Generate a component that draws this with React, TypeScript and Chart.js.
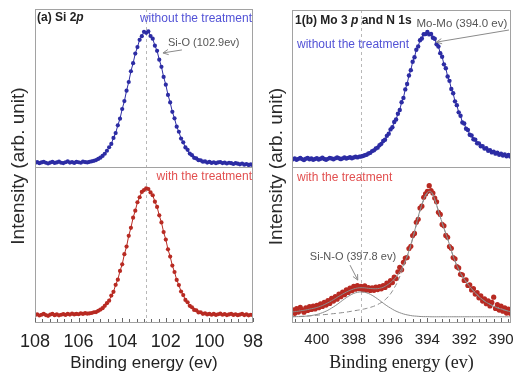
import React, { useEffect, useRef } from 'react';
import { Chart, registerables } from 'chart.js';

Chart.register(...registerables);

// ---------------- data: panel (a) Si 2p ----------------
const SI_E_START = 108.0;
const SI_E_STEP = -0.1;
const siUntreated = [
  2.6, 3.1, 2.4, 2.9, 3.3, 2.7, 2.2, 2.8, 3.2, 2.6,
  2.9, 3.4, 2.7, 2.5, 3.0, 3.5, 2.8, 3.1, 2.6, 3.3,
  3.0, 2.7, 3.4, 3.1, 2.9, 3.3, 3.6, 3.9, 4.4, 5.1,
  5.9, 7.0, 8.4, 10.3, 12.5, 14.6, 18.4, 21.5, 26.4, 30.6,
  36.7, 41.7, 48.3, 53.8, 60.6, 65.7, 71.8, 75.9, 80.5, 82.8,
  85.6, 84.9, 85.8, 82.9, 81.2, 76.8, 73.5, 67.9, 63.4, 57.0,
  52.1, 45.6, 40.9, 34.9, 30.8, 25.5, 22.3, 18.0, 15.6, 12.4,
  10.9, 8.5, 7.5, 5.8, 5.4, 4.3, 4.2, 3.4, 3.5, 2.8,
  3.2, 2.6, 3.0, 2.4, 2.9, 3.1, 2.5, 2.8, 2.2, 2.7,
  2.4, 1.9, 2.5, 2.1, 1.7, 2.2, 1.5, 1.9, 1.3, 1.6,
  1.1,
];
const siTreated = [
  5.0, 5.6, 4.8, 5.3, 5.9, 5.1, 4.6, 5.4, 5.8, 5.0,
  5.5, 4.9, 5.3, 5.7, 5.2, 5.8, 5.4, 6.0, 5.5, 5.9,
  5.6, 6.2, 5.8, 6.3, 6.0, 6.2, 6.4, 6.9, 7.0, 7.8,
  8.6, 9.5, 11.0, 12.7, 14.3, 17.6, 20.0, 24.5, 27.8, 33.4,
  37.6, 44.1, 49.0, 55.9, 61.0, 67.5, 72.0, 77.4, 80.6, 84.0,
  85.2, 86.3, 85.9, 83.7, 81.9, 77.8, 74.4, 69.0, 64.5, 58.3,
  53.5, 47.2, 42.6, 36.8, 32.7, 27.6, 24.3, 20.2, 17.9, 14.8,
  13.3, 11.0, 10.1, 8.4, 8.1, 6.8, 6.9, 5.9, 6.2, 5.5,
  5.9, 5.3, 5.8, 5.2, 5.6, 6.0, 5.3, 5.7, 5.1, 5.5,
  5.9, 5.2, 5.6, 5.0, 5.4, 5.8, 5.1, 5.5, 4.9, 5.3,
  5.0,
];
const SI_X_TICKS = [108, 106, 104, 102, 100, 98];
const SI_X_MIN = 98;
const SI_X_MAX = 108;
const SI_MARKER = 102.9;

// ---------------- data: panel (b) Mo 3p and N 1s ----------------
const MO_E_START = 401.3;
const MO_E_STEP = -0.1;
const moUntreated = [
  5.2, 5.8, 4.9, 5.5, 6.1, 5.3, 4.8, 5.6, 6.0, 5.2,
  5.7, 4.9, 5.4, 5.9, 5.1, 5.6, 6.2, 5.4, 4.9, 5.5,
  6.1, 5.7, 5.2, 5.8, 6.4, 5.9, 5.3, 5.8, 6.3, 5.7,
  6.1, 6.6, 5.9, 6.3, 6.8, 6.4, 6.9, 7.0, 7.3, 7.8,
  8.1, 8.9, 9.3, 10.4, 10.9, 12.1, 12.6, 14.1, 15.0, 16.8,
  17.6, 20.1, 21.4, 24.2, 25.6, 28.9, 30.5, 34.1, 36.5, 41.4,
  44.2, 49.6, 53.0, 58.4, 61.8, 67.1, 70.0, 74.8, 76.9, 80.8,
  81.9, 84.6, 84.7, 86.0, 84.5, 84.8, 82.4, 81.7, 78.3, 76.8,
  72.6, 70.3, 65.5, 63.0, 57.8, 55.0, 49.8, 47.1, 42.0, 39.6,
  35.0, 32.9, 28.6, 27.9, 24.6, 23.8, 20.8, 20.3, 17.9, 17.6,
  15.4, 15.3, 13.5, 13.6, 12.0, 12.2, 10.6, 11.0, 9.6, 10.1,
  8.8, 9.4, 8.1, 8.8, 7.6, 8.3, 7.1, 7.9, 7.0,
];
const moTreated = [
  8.5, 6.2, 9.3, 7.0, 10.1, 8.4, 6.9, 9.8, 8.1, 10.6,
  8.7, 10.9, 9.0, 11.4, 9.8, 12.3, 10.6, 13.2, 11.5, 14.4,
  12.6, 15.8, 14.1, 16.9, 15.3, 18.6, 16.9, 19.8, 18.2, 21.3,
  19.6, 22.4, 20.8, 23.5, 21.7, 24.0, 22.1, 23.6, 21.4, 23.9,
  21.2, 22.8, 20.9, 22.6, 21.0, 23.1, 21.5, 23.4, 22.0, 24.1,
  22.9, 25.6, 24.2, 27.3, 26.0, 29.5, 28.6, 32.9, 35.8, 34.2,
  39.0, 41.8, 42.1, 47.9, 49.3, 56.2, 57.6, 64.8, 66.7, 73.9,
  75.1, 80.8, 83.0, 84.6, 88.3, 85.2, 83.6, 80.4, 77.9, 71.2,
  69.8, 63.4, 62.5, 56.3, 55.1, 49.2, 48.0, 42.1, 41.3, 36.2,
  35.4, 31.3, 31.0, 27.4, 27.8, 24.1, 24.6, 21.3, 22.1, 18.6,
  19.5, 16.2, 17.4, 14.1, 15.6, 12.4, 14.3, 11.0, 13.2, 16.6,
  9.4, 11.8, 8.3, 10.9, 7.6, 9.8, 6.4, 8.9, 6.2,
];
const FIT_E_START = 401.4;
const FIT_E_STEP = -0.2;
const fitTotal = [
  7.0, 7.3, 7.6, 8.0, 8.4, 8.9, 9.4, 10.0, 10.8, 11.8,
  13.0, 14.3, 15.7, 17.2, 18.6, 19.9, 21.0, 21.9, 22.5, 22.7,
  22.6, 22.3, 22.1, 22.0, 22.3, 23.0, 24.3, 26.0, 28.2, 31.2,
  35.0, 40.0, 46.5, 54.5, 63.5, 72.5, 79.5, 84.0, 84.5, 79.5,
  72.0, 64.5, 57.5, 50.5, 43.0, 37.0, 32.0, 28.2, 25.0, 22.0,
  19.4, 17.0, 15.0, 13.3, 12.0, 10.8, 9.8, 9.0, 8.3, 7.6,
  7.0,
];
const fitSiNO = [
  4.0, 4.1, 4.1, 4.2, 4.4, 4.6, 5.0, 5.5, 6.2, 7.1,
  8.2, 9.6, 11.1, 12.8, 14.6, 16.3, 17.8, 19.0, 19.7, 20.0,
  19.7, 19.0, 17.8, 16.3, 14.6, 12.8, 11.1, 9.6, 8.2, 7.1,
  6.2, 5.5, 5.0, 4.6, 4.4, 4.2, 4.1, 4.1, 4.0, 4.0,
  4.0, 4.0, 4.0, 4.0, 4.0, 4.0, 4.0, 4.0, 4.0, 4.0,
  4.0, 4.0, 4.0, 4.0, 4.0, 4.0, 4.0, 4.0, 4.0, 4.0,
  4.0,
];
const fitMo = [
  4.0, 4.1, 4.2, 4.3, 4.4, 4.6, 4.8, 5.0, 5.2, 5.4,
  5.6, 5.9, 6.1, 6.4, 6.7, 7.0, 7.4, 7.8, 8.2, 8.6,
  9.1, 9.7, 10.4, 11.3, 12.5, 14.0, 16.0, 18.8, 22.5, 27.0,
  33.0, 39.5, 46.0, 54.0, 63.0, 72.0, 79.0, 83.5, 84.0, 79.5,
  72.0, 64.5, 57.5, 50.5, 43.0, 37.0, 32.0, 28.2, 25.0, 22.0,
  19.4, 17.0, 15.0, 13.3, 12.0, 10.8, 9.8, 9.0, 8.3, 7.6,
  7.0,
];
const MO_X_TICKS = [400, 398, 396, 394, 392, 390];
const MO_X_MIN = 389.46;
const MO_X_MAX = 401.35;
const MO_MARKER = 397.6;

// ---------------- styling ----------------
const SANS = "'Liberation Sans', Arial, sans-serif";
const SERIF = "'Liberation Serif', 'Times New Roman', serif";
const BLUE = '#2c2ca4';
const RED = '#b82a22';
const FIT_GRAY = '#8c8c8c';
const FRAME = '#a2a2a2';

function energyGrid(start: number, step: number, n: number): number[] {
  return Array.from({ length: n }, (_, i) => Math.round((start + step * i) * 100) / 100);
}
function pairs(xs: number[], ys: number[]) {
  return ys.map((y, i) => ({ x: xs[i], y }));
}
function stepRange(from: number, to: number, step: number): number[] {
  const out: number[] = [];
  const n = Math.round((to - from) / step);
  for (let i = 0; i <= n; i++) out.push(Math.round((from + i * step) * 1000) / 1000);
  return out;
}

type Seg = { text: string; font: string };
type Label = {
  segs: Seg[];
  color: string;
  align: 'left' | 'right';
  at: (c: any) => { x: number; y: number };
};
type Arrow = { from: [number, number]; to: [number, number]; axis: 'yTop' | 'yBot' };
type Decor = {
  marker: number;
  yTitleX: number;
  minorTicks: number[];
  majorTicks: number[];
  labels: Label[];
  arrows: Arrow[];
};

function drawSegs(ctx: CanvasRenderingContext2D, segs: Seg[], x: number, y: number, align: 'left' | 'right', color: string) {
  let total = 0;
  for (const s of segs) { ctx.font = s.font; total += ctx.measureText(s.text).width; }
  let cx = align === 'right' ? x - total : x;
  ctx.fillStyle = color;
  ctx.textAlign = 'left';
  ctx.textBaseline = 'middle';
  for (const s of segs) {
    ctx.font = s.font;
    ctx.fillText(s.text, cx, y);
    cx += ctx.measureText(s.text).width;
  }
}

function drawArrow(ctx: CanvasRenderingContext2D, x1: number, y1: number, x2: number, y2: number) {
  ctx.beginPath(); ctx.moveTo(x1, y1); ctx.lineTo(x2, y2); ctx.stroke();
  const ang = Math.atan2(y2 - y1, x2 - x1);
  const L = 6;
  ctx.beginPath();
  ctx.moveTo(x2 - L * Math.cos(ang - 0.45), y2 - L * Math.sin(ang - 0.45));
  ctx.lineTo(x2, y2);
  ctx.lineTo(x2 - L * Math.cos(ang + 0.45), y2 - L * Math.sin(ang + 0.45));
  ctx.stroke();
}

function decorPlugin(d: Decor) {
  return {
    id: 'decor',
    beforeDatasetsDraw(chart: any) {
      const { ctx, chartArea: a, scales } = chart;
      const px = Math.round(scales.x.getPixelForValue(d.marker)) + 0.5;
      ctx.save();
      ctx.strokeStyle = '#b8b8b8';
      ctx.lineWidth = 1;
      ctx.setLineDash([3, 3]);
      ctx.beginPath(); ctx.moveTo(px, a.top); ctx.lineTo(px, a.bottom); ctx.stroke();
      ctx.restore();
    },
    afterDraw(chart: any) {
      const { ctx, chartArea: a, scales } = chart;
      ctx.save();
      // frame and divider
      ctx.strokeStyle = FRAME;
      ctx.lineWidth = 1;
      ctx.strokeRect(a.left + 0.5, a.top + 0.5, a.right - a.left - 1, a.bottom - a.top - 1);
      const div = Math.round(scales.yTop.bottom) + 0.5;
      ctx.beginPath(); ctx.moveTo(a.left, div); ctx.lineTo(a.right, div); ctx.stroke();
      // inward tick marks on the energy axis
      ctx.strokeStyle = '#666';
      ctx.beginPath();
      for (const v of d.minorTicks) {
        const x = Math.round(scales.x.getPixelForValue(v)) + 0.5;
        const major = d.majorTicks.some((m) => Math.abs(m - v) < 1e-6);
        ctx.moveTo(x, a.bottom - 1);
        ctx.lineTo(x, a.bottom - 1 - (major ? 4 : 3));
      }
      ctx.stroke();
      // y title
      ctx.save();
      ctx.translate(d.yTitleX, (a.top + a.bottom) / 2);
      ctx.rotate(-Math.PI / 2);
      ctx.font = `19px ${SANS}`;
      ctx.fillStyle = '#2a2a2a';
      ctx.textAlign = 'center';
      ctx.textBaseline = 'middle';
      ctx.fillText('Intensity (arb. unit)', 0, 0);
      ctx.restore();
      // labels
      for (const l of d.labels) {
        const p = l.at(chart);
        drawSegs(ctx, l.segs, p.x, p.y, l.align, l.color);
      }
      // arrows
      ctx.strokeStyle = '#8a8a8a';
      ctx.lineWidth = 1;
      for (const ar of d.arrows) {
        const y = scales[ar.axis];
        drawArrow(
          ctx,
          scales.x.getPixelForValue(ar.from[0]), y.getPixelForValue(ar.from[1]),
          scales.x.getPixelForValue(ar.to[0]), y.getPixelForValue(ar.to[1]),
        );
      }
      ctx.restore();
    },
  };
}

type PanelSpec = {
  xMin: number;
  xMax: number;
  xTicks: number[];
  tickFont: any;
  titleFont: any;
  padTop: number;
  padRight: number;
  datasets: any[];
  decor: Decor;
};

function panelConfig(p: PanelSpec): any {
  const hidden = {
    ticks: { display: false },
    grid: { display: false, drawTicks: false },
    border: { display: false },
    afterFit: (s: any) => { s.width = 35; s.paddingTop = 0; s.paddingBottom = 0; },
  };
  return {
    type: 'line',
    data: { datasets: p.datasets },
    options: {
      responsive: false,
      animation: false,
      devicePixelRatio: 1,
      layout: { padding: { top: p.padTop, right: p.padRight, left: 0, bottom: 0 } },
      plugins: { legend: { display: false }, tooltip: { enabled: false } },
      scales: {
        x: {
          type: 'linear',
          position: 'bottom',
          reverse: true,
          min: p.xMin,
          max: p.xMax,
          grid: { display: false, drawTicks: false },
          border: { display: false },
          afterBuildTicks: (s: any) => { s.ticks = p.xTicks.map((v) => ({ value: v })); },
          afterFit: (s: any) => { s.height = 51; s.paddingLeft = 0; s.paddingRight = 0; },
          ticks: {
            font: p.tickFont,
            color: '#222',
            padding: 8,
            maxRotation: 0,
            autoSkip: false,
            callback: (v: any) => String(Math.round(Number(v))),
          },
          title: {
            display: true,
            text: 'Binding energy (ev)',
            font: p.titleFont,
            color: '#222',
            padding: { top: 0, bottom: 0 },
          },
        },
        yTop: { type: 'linear', position: 'left', stack: 'panel', stackWeight: 158, weight: 2, min: 0, max: 100, ...hidden },
        yBot: { type: 'linear', position: 'left', stack: 'panel', stackWeight: 156, weight: 1, min: 0, max: 100, ...hidden },
      },
    },
    plugins: [decorPlugin(p.decor)],
  };
}

function dataSeries(xs: number[], ys: number[], color: string, axis: string, withLine: boolean, radius: number) {
  return {
    data: pairs(xs, ys),
    yAxisID: axis,
    showLine: withLine,
    borderColor: color,
    borderWidth: 1,
    pointRadius: radius,
    pointBackgroundColor: color,
    pointBorderWidth: 0,
    tension: 0,
    order: 2,
  };
}
function fitSeries(xs: number[], ys: number[], dash: number[]) {
  return {
    data: pairs(xs, ys),
    yAxisID: 'yBot',
    showLine: true,
    borderColor: FIT_GRAY,
    borderWidth: 1,
    borderDash: dash,
    pointRadius: 0,
    tension: 0.4,
    order: 1,
  };
}

function leftConfig() {
  const xs = energyGrid(SI_E_START, SI_E_STEP, siUntreated.length);
  const bold = `bold 12px ${SANS}`;
  return panelConfig({
    xMin: SI_X_MIN,
    xMax: SI_X_MAX,
    xTicks: SI_X_TICKS,
    tickFont: { family: SANS, size: 18 },
    titleFont: { family: SANS, size: 17, lineHeight: 1.2 },
    padTop: 9,
    padRight: 17,
    datasets: [
      dataSeries(xs, siUntreated, BLUE, 'yTop', true, 2.1),
      dataSeries(xs, siTreated, RED, 'yBot', true, 2.1),
    ],
    decor: {
      marker: SI_MARKER,
      yTitleX: 19,
      minorTicks: stepRange(SI_X_MIN, SI_X_MAX, 1 / 3),
      majorTicks: SI_X_TICKS,
      labels: [
        { segs: [{ text: '(a) Si 2', font: bold }, { text: 'p', font: `italic ${bold}` }], color: '#222', align: 'left',
          at: (c) => ({ x: c.chartArea.left + 2, y: c.chartArea.top + 9 }) },
        { segs: [{ text: 'without the treatment', font: `12px ${SANS}` }], color: '#5252d6', align: 'right',
          at: (c) => ({ x: c.chartArea.right - 1, y: c.chartArea.top + 10 }) },
        { segs: [{ text: 'Si-O (102.9ev)', font: `11px ${SANS}` }], color: '#555', align: 'left',
          at: (c) => ({ x: c.scales.x.getPixelForValue(101.9), y: c.scales.yTop.getPixelForValue(78.5) }) },
        { segs: [{ text: 'with the treatment', font: `12px ${SANS}` }], color: '#e25050', align: 'right',
          at: (c) => ({ x: c.chartArea.right - 1, y: c.scales.yTop.bottom + 10 }) },
      ],
      arrows: [{ from: [101.26, 74.1], to: [102.13, 72.2], axis: 'yTop' }],
    },
  });
}

function rightConfig() {
  const xs = energyGrid(MO_E_START, MO_E_STEP, moUntreated.length);
  const fx = energyGrid(FIT_E_START, FIT_E_STEP, fitTotal.length);
  const bold = `bold 12px ${SANS}`;
  return panelConfig({
    xMin: MO_X_MIN,
    xMax: MO_X_MAX,
    xTicks: MO_X_TICKS,
    tickFont: { family: SANS, size: 15 },
    titleFont: { family: SERIF, size: 18, lineHeight: 1.2 },
    padTop: 10,
    padRight: 3,
    datasets: [
      dataSeries(xs, moUntreated, BLUE, 'yTop', true, 2.2),
      dataSeries(xs, moTreated, RED, 'yBot', false, 2.6),
      fitSeries(fx, fitTotal, []),
      fitSeries(fx, fitSiNO, []),
      fitSeries(fx, fitMo, [5, 3]),
    ],
    decor: {
      marker: MO_MARKER,
      yTitleX: 20,
      minorTicks: stepRange(389.6, 401.2, 0.4),
      majorTicks: MO_X_TICKS,
      labels: [
        { segs: [{ text: '1(b) Mo 3 ', font: bold }, { text: 'p', font: `italic ${bold}` }, { text: ' and N 1s', font: bold }],
          color: '#222', align: 'left', at: (c) => ({ x: c.chartArea.left + 3, y: c.chartArea.top + 11 }) },
        { segs: [{ text: 'Mo-Mo (394.0 ev)', font: `11.5px ${SANS}` }], color: '#555', align: 'left',
          at: (c) => ({ x: c.scales.x.getPixelForValue(394.59), y: c.scales.yTop.getPixelForValue(91.1) }) },
        { segs: [{ text: 'without the treatment', font: `12px ${SANS}` }], color: '#5252d6', align: 'left',
          at: (c) => ({ x: c.chartArea.left + 5, y: c.chartArea.top + 35 }) },
        { segs: [{ text: 'with the treatment', font: `12px ${SANS}` }], color: '#e25050', align: 'left',
          at: (c) => ({ x: c.chartArea.left + 5, y: c.scales.yTop.bottom + 10 }) },
        { segs: [{ text: 'Si-N-O (397.8 ev)', font: `11px ${SANS}` }], color: '#555', align: 'left',
          at: (c) => ({ x: c.scales.x.getPixelForValue(400.38), y: c.scales.yBot.getPixelForValue(42.3) }) },
      ],
      arrows: [
        { from: [389.57, 87.3], to: [393.51, 79.6], axis: 'yTop' },
        { from: [398.2, 37.2], to: [397.78, 27.6], axis: 'yBot' },
      ],
    },
  });
}

export default function App() {
  const leftRef = useRef<HTMLCanvasElement>(null);
  const rightRef = useRef<HTMLCanvasElement>(null);
  useEffect(() => {
    const c1 = new Chart(leftRef.current as HTMLCanvasElement, leftConfig());
    const c2 = new Chart(rightRef.current as HTMLCanvasElement, rightConfig());
    return () => { c1.destroy(); c2.destroy(); };
  }, []);
  return (
    <div style={{ position: 'absolute', left: 0, top: 0, width: 515, height: 374, background: '#fff', overflow: 'hidden' }}>
      <canvas ref={leftRef} width={270} height={374}
        style={{ position: 'absolute', left: 0, top: 0, width: 270, height: 374 }} />
      <canvas ref={rightRef} width={258} height={374}
        style={{ position: 'absolute', left: 257, top: 0, width: 258, height: 374 }} />
    </div>
  );
}
